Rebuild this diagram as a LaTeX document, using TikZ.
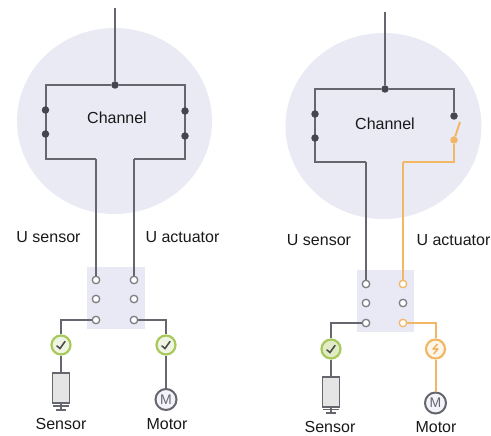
\documentclass[tikz,border=0pt]{standalone}
\usepackage{fontspec}
\setmainfont{Liberation Sans}
\definecolor{halo}{HTML}{E9EAF4}
\definecolor{padc}{HTML}{E8E9F4}
\definecolor{wire}{HTML}{66666E}
\definecolor{live}{HTML}{F2B765}
\definecolor{okc}{HTML}{A8C85C}
\definecolor{dotc}{HTML}{45454F}
\usetikzlibrary{shapes.geometric}
\tikzset{
  wireline/.style={draw=wire,line width=2pt,line join=miter},
  liveline/.style={draw=live,line width=2pt,line join=miter},
  lab/.style={font=\fontsize{16}{18}\selectfont,text=black!90,inner sep=0pt},
  joint/.style={circle,fill=dotc,minimum size=7.5pt,inner sep=0pt},
  livejoint/.style={circle,fill=live,minimum size=7.5pt,inner sep=0pt},
  term/.style={circle,draw=wire!85,fill=white,line width=1.3pt,minimum size=7.5pt,inner sep=0pt},
  liveterm/.style={circle,draw=live,fill=white,line width=1.3pt,minimum size=7.5pt,inner sep=0pt},
  okbadge/.style={circle,draw=okc,fill=okc!18,line width=2.2pt,minimum size=19pt,inner sep=0pt},
  livebadge/.style={circle,draw=live,fill=live!12,line width=2.2pt,minimum size=19pt,inner sep=0pt},
  motorc/.style={circle,draw=wire,fill=padc!50!white,line width=2pt,minimum size=21pt,inner sep=0pt,font=\fontsize{14}{14}\selectfont,text=wire},
  sensorbox/.style={rectangle,draw=wire,fill=black!10,line width=1.5pt,minimum width=17pt,minimum height=30pt,inner sep=0pt},
  halonode/.style={ellipse,fill=halo,inner sep=0pt},
  padnode/.style={rectangle,fill=padc,inner sep=0pt},
}
\newcommand{\tick}[1]{\draw[black!70,line width=1.6pt,line cap=round] ([shift={(-4,1)}]#1.center) -- ([shift={(-1,3.5)}]#1.center) -- ([shift={(4,-3.5)}]#1.center);}
\begin{document}
\begin{tikzpicture}[x=1pt,y=-1pt]
\useasboundingbox (0,0) rectangle (491,436);
% ---- left
\node[halonode,minimum width=195pt,minimum height=186pt] (haloL) at (114.5,121) {};
\node[padnode,minimum width=58pt,minimum height=62pt] (padL) at (116,298) {};
\coordinate (topL) at (115,8);
\node[joint] (jL) at (115,85) {};
\coordinate (tlL) at (45.5,85);
\coordinate (trL) at (185,85);
\coordinate (blL) at (45.5,159);
\coordinate (brL) at (185,159);
\coordinate (ilL) at (96,159);
\coordinate (irL) at (134,159);
\draw[wireline] (topL) -- (jL);
\draw[wireline] (jL) -- (tlL) -- (blL) -- (ilL);
\draw[wireline] (jL) -- (trL) -- (brL) -- (irL);
\node[joint] (d1L) at (45.5,110) {};
\node[joint] (d2L) at (45.5,134) {};
\node[joint] (d3L) at (185,111) {};
\node[joint] (d4L) at (185,136) {};
\node[term] (t1L) at (96,280) {};
\node[term] (t2L) at (96,299) {};
\node[term] (t3L) at (96,320) {};
\node[term] (t4L) at (134,280) {};
\node[term] (t5L) at (134,299) {};
\node[term] (t6L) at (134,320) {};
\draw[wireline] (ilL) -- (t1L);
\draw[wireline] (irL) -- (t4L);
\node[okbadge] (b1L) at (61,345) {};
\node[okbadge] (b2L) at (166,345) {};
\tick{b1L}\tick{b2L}
\draw[wireline] (t3L) -| (b1L);
\draw[wireline] (t6L) -| (b2L);
\node[sensorbox] (sL) at (61,388) {};
\node[motorc] (mL) at (166,399.5) {M};
\draw[wireline] (b1L) -- (sL);
\draw[wireline] (b2L) -- (mL);
\coordinate (g1L) at (61,403);
\coordinate (g2L) at (61,410);
\draw[wireline,line width=1.5pt] (g1L) -- (g2L);
\draw[wireline,line width=1.5pt] (53,406) -- (69,406);
\draw[wireline,line width=1.2pt] (56,410) -- (66,410);
\node[lab] at (117,118) {Channel};
\node[lab] at (48.5,237) {U sensor};
\node[lab] at (182.5,237) {U actuator};
\node[lab] at (61,424) {Sensor};
\node[lab] at (167,424) {Motor};
% ---- right
\node[halonode,minimum width=196pt,minimum height=186pt] (haloR) at (383.5,126) {};
\node[padnode,minimum width=57pt,minimum height=62pt] (padR) at (385.5,301) {};
\coordinate (topR) at (385,12);
\node[joint] (jR) at (385,89) {};
\coordinate (tlR) at (315,89);
\coordinate (trR) at (454,89);
\coordinate (blR) at (315,162);
\coordinate (brR) at (454,162);
\coordinate (ilR) at (366,162);
\coordinate (irR) at (403,162);
\coordinate (blade) at (460,122);
\draw[wireline] (topR) -- (jR);
\draw[wireline] (jR) -- (tlR) -- (blR) -- (ilR);
\node[joint] (d1R) at (315,114) {};
\node[joint] (d2R) at (315,138) {};
\node[joint] (d3R) at (454,116) {};
\node[livejoint] (d4R) at (454,140) {};
\draw[wireline] (jR) -- (trR) -- (d3R);
\draw[liveline] (d4R) -- (brR) -- (irR);
\draw[liveline] (d4R) -- (blade);
\node[term] (t1R) at (366,284) {};
\node[term] (t2R) at (366,303) {};
\node[term] (t3R) at (366,323) {};
\node[liveterm] (t4R) at (403,284) {};
\node[term] (t5R) at (403,303) {};
\node[liveterm] (t6R) at (403,323) {};
\draw[wireline] (ilR) -- (t1R);
\draw[liveline] (irR) -- (t4R);
\node[okbadge,fill=okc!35] (b1R) at (331,349) {};
\node[livebadge] (b2R) at (435.5,349) {};
\tick{b1R}
\draw[live,line width=1.6pt,line join=round] ([shift={(2,-5)}]b2R.center) -- ([shift={(-2.5,0)}]b2R.center) -- ([shift={(2.5,0)}]b2R.center) -- ([shift={(-2,5)}]b2R.center);
\draw[wireline] (t3R) -| (b1R);
\draw[liveline] (t6R) -| (b2R);
\node[sensorbox] (sR) at (331,392) {};
\node[motorc] (mR) at (435.5,403) {M};
\draw[wireline] (b1R) -- (sR);
\draw[liveline] (b2R) -- (mR);
\coordinate (g1R) at (331,407);
\coordinate (g2R) at (331,413);
\draw[wireline,line width=1.5pt] (g1R) -- (g2R);
\draw[wireline,line width=1.5pt] (323,409.5) -- (339,409.5);
\draw[wireline,line width=1.2pt] (326,413) -- (336,413);
\node[lab] at (385,124) {Channel};
\node[lab] at (319,240) {U sensor};
\node[lab] at (453.5,240) {U actuator};
\node[lab] at (330,427) {Sensor};
\node[lab] at (436,427) {Motor};
\end{tikzpicture}
\end{document}
